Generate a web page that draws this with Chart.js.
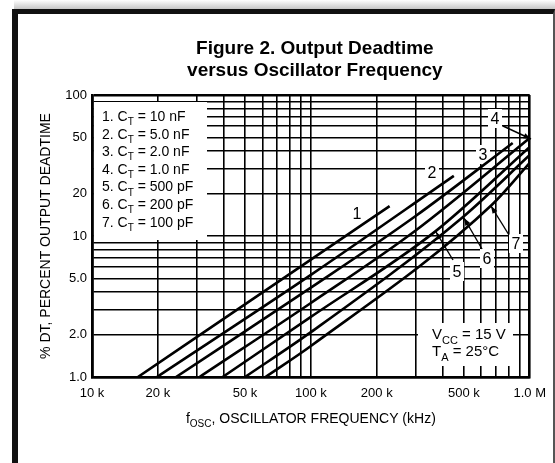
<!DOCTYPE html>
<html>
<head>
<meta charset="utf-8">
<script src="https://cdn.jsdelivr.net/npm/chart.js@4.4.1/dist/chart.umd.min.js"></script>
<style>
  html, body { margin: 0; padding: 0; background: #fff; }
  #wrap { position: relative; width: 555px; height: 463px; overflow: hidden; background: #fff; }
  #shade { position: absolute; left: 14px; top: 0; width: 541px; height: 10px; background: linear-gradient(#fff, #c0c0c0); }
  #frame { position: absolute; left: 12px; top: 9px; width: 535px; height: 480px;
           border-top: 5px solid #111; border-left: 6px solid #111; border-right: 2px solid #555; }
  canvas { position: absolute; left: 0; top: 0; }
</style>
</head>
<body>
<div id="wrap">
  <div id="shade"></div>
  <div id="frame"></div>
  <canvas id="chart" width="555" height="463"></canvas>
</div>
<script>
// capacitor values (curve legend)
const capNames = ['10 nF', '5.0 nF', '2.0 nF', '1.0 nF', '500 pF', '200 pF', '100 pF'];

// curve points: frequency (Hz) and deadtime (%)
const freq1 = [16200, 100000, 229000];
const dt1   = [1.0, 6.8, 16.3];
const freq2 = [19800, 100000, 450000];
const dt2   = [1.0, 5.3, 26.7];
const freq3 = [24200, 100000, 300000, 836000];
const dt3   = [1.0, 4.3, 13.8, 45.7];
const freq4 = [31000, 100000, 300000, 1000000];
const dt4   = [1.0, 3.35, 10.9, 49.5];
const freq5 = [39500, 100000, 368000, 1000000];
const dt5   = [1.0, 2.67, 10.7, 42.8];
const freq6 = [50000, 100000, 494000, 1000000];
const dt6   = [1.0, 2.08, 13.6, 37.5];
const freq7 = [62000, 100000, 670000, 1000000];
const dt7   = [1.0, 1.66, 16.6, 33.0];

// tick labels
const xTickValues = [10000, 20000, 50000, 100000, 200000, 500000, 1000000];
const xTickLabels = ['10 k', '20 k', '50 k', '100 k', '200 k', '500 k', '1.0 M'];
const yTickValues = [1, 2, 5, 10, 20, 50, 100];
const yTickLabels = ['1.0', '2.0', '5.0', '10', '20', '50', '100'];

const FONT = '"Liberation Sans", Arial, Helvetica, sans-serif';
const INK = '#000';

// log grid: 1..9 in every decade
function logGrid(min, max) {
  const out = [];
  for (let d = min; d < max; d *= 10) {
    for (let k = 1; k < 10; k++) out.push(d * k);
  }
  out.push(max);
  return out;
}

const curveFreqs = [freq1, freq2, freq3, freq4, freq5, freq6, freq7];
const curveDts = [dt1, dt2, dt3, dt4, dt5, dt6, dt7];

const datasets = curveFreqs.map((fr, i) => ({
  label: capNames[i],
  data: fr.map((f, j) => ({ x: f, y: curveDts[i][j] })),
  borderColor: '#000',
  borderWidth: 2.6,
  pointRadius: 0,
  cubicInterpolationMode: 'monotone',
  fill: false
}));

// draws text with subscript parts: [[text, isSub], ...]
function richText(c, parts, x, y, size, align) {
  let total = 0;
  parts.forEach(([t, sub]) => {
    c.font = (sub ? Math.round(size * 0.72) : size) + 'px ' + FONT;
    total += c.measureText(t).width;
  });
  let cx = align === 'center' ? x - total / 2 : x;
  c.textAlign = 'left';
  c.textBaseline = 'alphabetic';
  parts.forEach(([t, sub]) => {
    c.font = (sub ? Math.round(size * 0.72) : size) + 'px ' + FONT;
    c.fillText(t, cx, y + (sub ? size * 0.3 : 0));
    cx += c.measureText(t).width;
  });
}

function arrow(c, x1, y1, x2, y2) {
  c.beginPath();
  c.moveTo(x1, y1);
  c.lineTo(x2, y2);
  c.stroke();
  const a = Math.atan2(y2 - y1, x2 - x1);
  c.beginPath();
  c.moveTo(x2, y2);
  c.lineTo(x2 - 8 * Math.cos(a - 0.35), y2 - 8 * Math.sin(a - 0.35));
  c.lineTo(x2 - 8 * Math.cos(a + 0.35), y2 - 8 * Math.sin(a + 0.35));
  c.closePath();
  c.fill();
}

// curve number labels [text, x, y]
const curveTags = [
  ['1', 357, 219], ['2', 432, 178], ['3', 483, 160], ['4', 495, 124],
  ['5', 457, 277], ['6', 487, 264], ['7', 516, 249]
];

const notes = {
  id: 'notes',
  beforeDatasetsDraw(chart) {
    const c = chart.ctx;
    c.save();
    c.fillStyle = '#fff';
    c.fillRect(94, 102, 113, 138);   // legend box
    c.fillRect(418, 323, 95, 43);    // conditions box
    curveTags.forEach(([t, x, y]) => c.fillRect(x - 7, y - 15, 14, 19));
    c.restore();
  },
  afterDatasetsDraw(chart) {
    const c = chart.ctx;
    c.save();
    c.fillStyle = INK;
    c.strokeStyle = INK;
    c.lineWidth = 1.4;

    // legend
    capNames.forEach((n, i) => {
      richText(c, [[(i + 1) + '. C', false], ['T', true], [' = ' + n, false]], 102, 121 + i * 17.6, 14);
    });

    // conditions
    richText(c, [['V', false], ['CC', true], [' = 15 V', false]], 432, 339, 15);
    richText(c, [['T', false], ['A', true], [' = 25°C', false]], 432, 356, 15);

    // curve tags
    c.font = '16px ' + FONT;
    c.textAlign = 'center';
    c.textBaseline = 'alphabetic';
    curveTags.forEach(([t, x, y]) => c.fillText(t, x, y));

    arrow(c, 503, 126, 531, 139);
    arrow(c, 453, 260, 436, 232);
    arrow(c, 482, 249, 464, 218);
    arrow(c, 509, 235, 491, 206);
    c.restore();
  },
  afterDraw(chart) {
    const c = chart.ctx;
    const a = chart.chartArea;
    const mid = (a.left + a.right) / 2;
    c.save();
    c.fillStyle = INK;
    c.textAlign = 'center';
    c.textBaseline = 'alphabetic';
    c.font = 'bold 19px ' + FONT;
    c.fillText('Figure 2. Output Deadtime', mid + 4, 54);
    c.fillText('versus Oscillator Frequency', mid + 4, 76);

    // x axis title
    richText(c, [['f', false], ['OSC', true], [', OSCILLATOR FREQUENCY (kHz)', false]], mid, 423, 14, 'center');

    // y axis title
    c.translate(50, (a.top + a.bottom) / 2);
    c.rotate(-Math.PI / 2);
    c.font = '14px ' + FONT;
    c.textAlign = 'center';
    c.fillText('% DT, PERCENT OUTPUT DEADTIME', 0, 0);
    c.restore();
  }
};

function gridWidth(ctx) {
  const v = ctx.tick && ctx.tick.value;
  return (v === 10000 || v === 1000000 || v === 1 || v === 100) ? 2.6 : 1.6;
}

new Chart(document.getElementById('chart'), {
  type: 'line',
  data: { datasets: datasets },
  options: {
    responsive: false,
    animation: false,
    devicePixelRatio: 1,
    layout: { padding: { left: 0, right: 25, top: 95, bottom: 0 } },
    plugins: { legend: { display: false }, tooltip: { enabled: false }, title: { display: false } },
    scales: {
      x: {
        type: 'logarithmic',
        min: 10000,
        max: 1000000,
        afterBuildTicks: s => { s.ticks = logGrid(10000, 1000000).map(v => ({ value: v })); },
        afterFit: s => { s.height = 86; },
        grid: { color: INK, lineWidth: gridWidth, drawTicks: false },
        border: { color: INK, width: 2.6 },
        ticks: {
          autoSkip: false, maxRotation: 0, padding: 9, color: INK,
          font: { family: FONT, size: 13 },
          callback: (v, i, ticks) => {
            const k = xTickValues.indexOf(ticks[i].value);
            return k >= 0 ? xTickLabels[k] : '';
          }
        }
      },
      y: {
        type: 'logarithmic',
        min: 1,
        max: 100,
        afterBuildTicks: s => { s.ticks = logGrid(1, 100).map(v => ({ value: v })); },
        afterFit: s => { s.width = 92; },
        grid: { color: INK, lineWidth: gridWidth, drawTicks: false },
        border: { color: INK, width: 2.6 },
        ticks: {
          autoSkip: false, padding: 5, color: INK,
          font: { family: FONT, size: 13 },
          callback: (v, i, ticks) => {
            const k = yTickValues.indexOf(ticks[i].value);
            return k >= 0 ? yTickLabels[k] : '';
          }
        }
      }
    }
  },
  plugins: [notes]
});
</script>
</body>
</html>
